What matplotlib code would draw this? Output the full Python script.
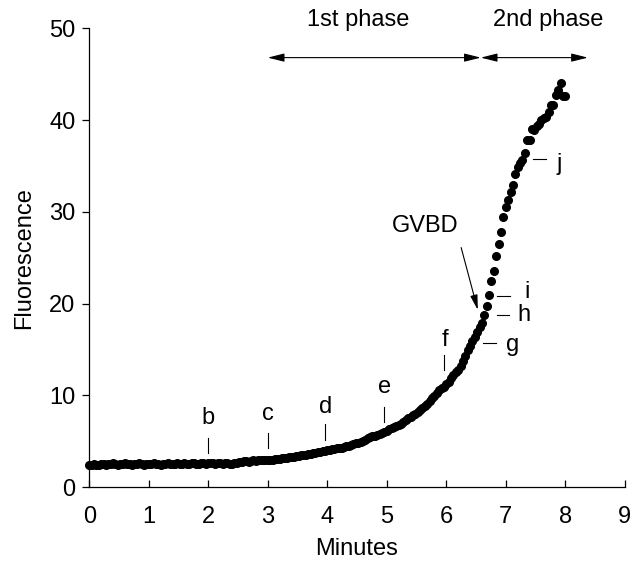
import numpy as np
import matplotlib.pyplot as plt

plt.rcParams['font.family'] = ['Liberation Sans', 'DejaVu Sans']

# sampling interval of the recording (minutes)
DT = 0.04

fluor = [
    # 0 - 2 min
    2.4, 2.4, 2.5, 2.4, 2.4, 2.5, 2.5, 2.4, 2.5, 2.5,
    2.6, 2.5, 2.4, 2.5, 2.5, 2.6, 2.5, 2.5, 2.4, 2.5,
    2.5, 2.6, 2.5, 2.4, 2.5, 2.5, 2.5, 2.6, 2.5, 2.5,
    2.4, 2.5, 2.5, 2.6, 2.5, 2.5, 2.5, 2.6, 2.5, 2.5,
    2.6, 2.5, 2.5, 2.6, 2.6, 2.5, 2.5, 2.6, 2.6, 2.5,
    2.6,
    # 2 - 3 min
    2.6, 2.6, 2.5, 2.6, 2.6, 2.5, 2.6, 2.6, 2.5, 2.5,
    2.6, 2.6, 2.7, 2.7, 2.8, 2.8, 2.7, 2.8, 2.9, 2.8,
    2.9, 2.9, 3.0, 2.9, 3.0,
    # 3 - 4 min
    3.0, 3.0, 3.1, 3.1, 3.1, 3.2, 3.2, 3.2, 3.3, 3.3,
    3.3, 3.4, 3.4, 3.5, 3.5, 3.5, 3.6, 3.6, 3.7, 3.7,
    3.8, 3.8, 3.9, 3.9, 4.0,
    # 4 - 5 min
    4.0, 4.1, 4.1, 4.2, 4.3, 4.3, 4.4, 4.5, 4.5, 4.6,
    4.7, 4.8, 4.8, 4.9, 5.0, 5.1, 5.3, 5.5, 5.6, 5.6,
    5.7, 5.8, 5.9, 6.0, 6.1,
    # 5 - 6 min
    6.3, 6.4, 6.5, 6.6, 6.8, 6.9, 7.1, 7.3, 7.5, 7.6,
    7.8, 8.0, 8.2, 8.4, 8.6, 8.8, 9.1, 9.4, 9.7, 9.9,
    10.2, 10.6, 10.8, 10.9, 11.2,
    # 6 - 6.6 min
    11.5, 11.9, 12.2, 12.5, 12.8, 13.2, 13.7, 14.3, 14.9, 15.4,
    15.9, 16.4, 16.9, 17.4, 17.9,
    # 6.6 - 8 min
    18.7, 19.7, 20.9, 22.4, 23.5, 25.2, 26.5, 27.8, 29.4, 30.5,
    31.3, 32.1, 32.9, 34.1, 34.9, 35.3, 35.6, 36.4, 37.8, 37.8,
    39.0, 38.9, 39.4, 39.6, 40.0, 40.2, 40.3, 40.9, 41.6, 41.6,
    42.7, 43.3, 44.0, 42.6, 42.6,
]
minutes = np.arange(len(fluor)) * DT

# stage labels with vertical markers: (label, x, text y, tick low, tick high)
vert_labels = [('b', 2.0, 7.5, 3.7, 5.3),
               ('c', 3.0, 8.0, 4.2, 5.85),
               ('d', 3.97, 8.75, 5.1, 6.9),
               ('e', 4.96, 10.9, 7.1, 8.75),
               ('f', 5.97, 16.0, 12.7, 14.4)]
# stage labels with horizontal dashes: (label, text x, text y, dash x0, dash x1, dash y)
horiz_labels = [('g', 7.12, 15.5, 6.62, 6.84, 15.7),
                ('h', 7.3, 18.8, 6.86, 7.06, 18.7),
                ('i', 7.36, 21.3, 6.86, 7.07, 20.8),
                ('j', 7.9, 35.2, 7.46, 7.68, 35.7)]

fig = plt.figure(figsize=(6.33, 5.65), dpi=100)
ax = fig.add_axes([0.141, 0.138, 0.846, 0.812])

ax.plot(minutes, fluor, 'o', color='black', ms=5.5, mec='black', clip_on=False)

FS = 17
for lab, x, ty, lo, hi in vert_labels:
    ax.plot([x, x], [lo, hi], color='black', lw=0.8)
    ax.text(x, ty, lab, ha='center', va='center', fontsize=FS)
for lab, tx, ty, x0, x1, y in horiz_labels:
    ax.plot([x0, x1], [y, y], color='black', lw=0.8)
    ax.text(tx, ty, lab, ha='center', va='center', fontsize=FS)

# GVBD arrow
ax.text(5.65, 28.4, 'GVBD', ha='center', va='center', fontsize=FS)
ax.annotate('', xy=(6.53, 19.3), xytext=(6.25, 26.1),
            arrowprops=dict(arrowstyle='-|>,head_length=0.9,head_width=0.22',
                            color='black', lw=0.8, shrinkA=0, shrinkB=0))

# phase arrows
arrow_kw = dict(arrowstyle='<|-|>,head_length=1.0,head_width=0.25',
                color='black', lw=0.8, shrinkA=0, shrinkB=0)
ax.annotate('', xy=(6.58, 46.8), xytext=(3.0, 46.8), arrowprops=arrow_kw,
            annotation_clip=False)
ax.annotate('', xy=(8.38, 46.8), xytext=(6.58, 46.8), arrowprops=arrow_kw,
            annotation_clip=False)
ax.text(4.52, 50.9, '1st phase', ha='center', va='center', fontsize=FS, clip_on=False)
ax.text(7.71, 50.9, '2nd phase', ha='center', va='center', fontsize=FS, clip_on=False)

ax.set_xlim(0, 9)
ax.set_ylim(0, 50)
ax.set_xticks(range(0, 10))
ax.set_yticks(range(0, 51, 10))
ax.spines['top'].set_visible(False)
ax.spines['right'].set_visible(False)
ax.spines['left'].set_linewidth(0.9)
ax.spines['bottom'].set_linewidth(0.9)
ax.tick_params(axis='x', direction='in', length=5, width=0.9, labelsize=FS, pad=14)
ax.tick_params(axis='y', direction='out', length=5, width=0.9, labelsize=FS, pad=5)
ax.set_xlabel('Minutes', fontsize=FS, labelpad=7)
ax.set_ylabel('Fluorescence', fontsize=FS, labelpad=10)

fig.savefig('out.png', dpi=100)
